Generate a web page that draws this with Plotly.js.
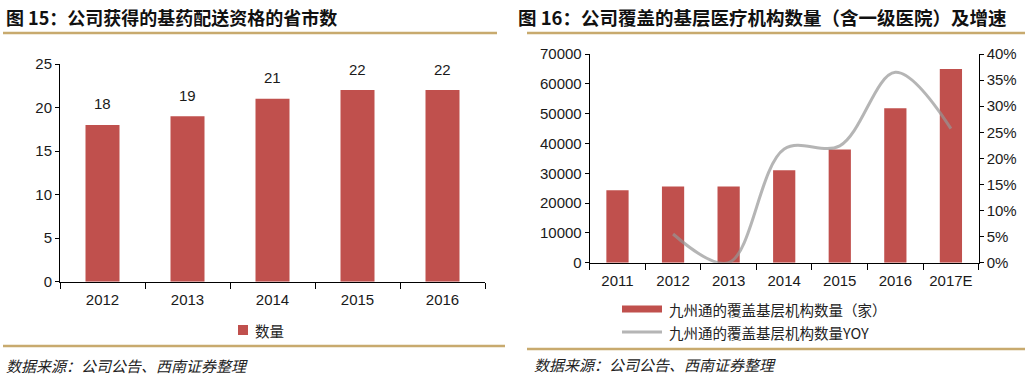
<!DOCTYPE html>
<html>
<head>
<meta charset="utf-8">
<script src="https://cdn.plot.ly/plotly-3.0.1.min.js"></script>
<style>
html,body{margin:0;padding:0;background:#fff;}
#chart{width:1025px;height:384px;}
</style>
</head>
<body>
<div id="chart"></div>
<script>
// ---- Data ----
const years1 = ['2012', '2013', '2014', '2015', '2016'];
const provinceCounts = [18, 19, 21, 22, 22];

const years2 = ['2011', '2012', '2013', '2014', '2015', '2016', '2017E'];
const institutionCounts = [24300, 25600, 25600, 31000, 38000, 51800, 65000];
const institutionYoY = [null, 5.5, 0.0, 21.8, 22.4, 36.5, 25.7];

const title1 = '图 15：公司获得的基药配送资格的省市数';
const title2 = '图 16：公司覆盖的基层医疗机构数量（含一级医院）及增速';
const legend1 = '数量';
const legend2a = '九州通的覆盖基层机构数量（家）';
const legend2b = '九州通的覆盖基层机构数量YOY';
const sourceText = '数据来源：公司公告、西南证券整理';

// ---- Styles ----
const W = 1025, H = 384;
const px = v => v / W;
const py = v => (H - v) / H;
const RED = '#c0504d';
const GRAY = 'rgba(150,150,150,0.7)';
const GOLD = '#c8aa6e';
const CJK = '"Noto Sans CJK SC", "Noto Sans", sans-serif';
const NUM = '"Liberation Sans", Arial, sans-serif';
const tickFont = {family: NUM, size: 15, color: '#1a1a1a'};

const traces = [
  {
    type: 'bar', x: years1, y: provinceCounts, xaxis: 'x', yaxis: 'y',
    marker: {color: RED}, width: 0.4, name: legend1, hoverinfo: 'x+y'
  },
  {
    type: 'bar', x: years2, y: institutionCounts, xaxis: 'x2', yaxis: 'y2',
    marker: {color: RED}, width: 0.4, name: legend2a, hoverinfo: 'x+y'
  },
  {
    type: 'scatter', mode: 'lines', x: years2, y: institutionYoY, xaxis: 'x2', yaxis: 'y3',
    line: {color: GRAY, width: 3, shape: 'spline', smoothing: 1},
    connectgaps: false, name: legend2b, hoverinfo: 'x+y'
  }
];

const axisCommon = {
  showline: true, linecolor: '#000', linewidth: 1,
  ticks: 'outside', tickcolor: '#000', tickwidth: 1,
  showgrid: false, zeroline: false, tickfont: tickFont, fixedrange: true
};

const annotations = [];
// data labels for left chart (category serial index on the x axis)
years1.forEach((yr, i) => {
  annotations.push({
    x: i, y: provinceCounts[i], xref: 'x', yref: 'y',
    text: String(provinceCounts[i]), showarrow: false, yshift: 21,
    font: {family: NUM, size: 15, color: '#1a1a1a'}
  });
});
// titles
annotations.push({
  x: px(4), y: py(17), xref: 'paper', yref: 'paper', xanchor: 'left', yanchor: 'middle',
  text: '<b>' + title1 + '</b>', showarrow: false,
  font: {family: CJK, size: 18, color: '#111'}
});
annotations.push({
  x: px(516), y: py(17), xref: 'paper', yref: 'paper', xanchor: 'left', yanchor: 'middle',
  text: '<b>' + title2 + '</b>', showarrow: false,
  font: {family: CJK, size: 18.5, color: '#111'}
});
// legends (custom)
const legFont = {family: CJK, size: 14.5, color: '#222'};
annotations.push({x: px(253), y: py(330), xref: 'paper', yref: 'paper', xanchor: 'left', yanchor: 'middle',
  text: legend1, showarrow: false, font: legFont});
annotations.push({x: px(667), y: py(309), xref: 'paper', yref: 'paper', xanchor: 'left', yanchor: 'middle',
  text: legend2a, showarrow: false, font: legFont});
annotations.push({x: px(667), y: py(332), xref: 'paper', yref: 'paper', xanchor: 'left', yanchor: 'middle',
  text: legend2b, showarrow: false, font: legFont});
// sources
const srcFont = {family: CJK, size: 15, color: '#222', style: 'italic'};
annotations.push({x: px(4), y: py(365), xref: 'paper', yref: 'paper', xanchor: 'left', yanchor: 'middle',
  text: sourceText, showarrow: false, font: srcFont});
annotations.push({x: px(532), y: py(364), xref: 'paper', yref: 'paper', xanchor: 'left', yanchor: 'middle',
  text: sourceText, showarrow: false, font: srcFont});

const shapes = [
  // gold rules
  {type: 'line', xref: 'paper', yref: 'paper', x0: px(3), x1: px(497), y0: py(33), y1: py(33), line: {color: GOLD, width: 2.5}},
  {type: 'line', xref: 'paper', yref: 'paper', x0: px(527), x1: px(1025), y0: py(33), y1: py(33), line: {color: GOLD, width: 2.5}},
  {type: 'line', xref: 'paper', yref: 'paper', x0: px(3), x1: px(505), y0: py(346), y1: py(346), line: {color: GOLD, width: 2.5}},
  {type: 'line', xref: 'paper', yref: 'paper', x0: px(527), x1: px(1025), y0: py(349), y1: py(349), line: {color: GOLD, width: 2.5}},
  // legend icons
  {type: 'rect', xref: 'paper', yref: 'paper', x0: px(238), x1: px(248), y0: py(335), y1: py(325), fillcolor: RED, line: {width: 0}},
  {type: 'rect', xref: 'paper', yref: 'paper', x0: px(622), x1: px(662), y0: py(312.5), y1: py(305.5), fillcolor: RED, line: {width: 0}},
  {type: 'line', xref: 'paper', yref: 'paper', x0: px(622), x1: px(662), y0: py(332), y1: py(332), line: {color: GRAY, width: 3}}
];

const layout = {
  width: W, height: H,
  margin: {l: 0, r: 0, t: 0, b: 0},
  paper_bgcolor: '#fff', plot_bgcolor: 'rgba(0,0,0,0)',
  showlegend: false,
  font: {family: NUM, color: '#1a1a1a'},
  xaxis: Object.assign({}, axisCommon, {
    domain: [px(60), px(485)], anchor: 'y', type: 'category',
    range: [-0.5, years1.length - 0.5], tickson: 'boundaries', ticklen: 6,
    ticklabelstandoff: 4
  }),
  yaxis: Object.assign({}, axisCommon, {
    domain: [py(281.7), py(64)], anchor: 'x', range: [0, 25], dtick: 5, ticklen: 4
  }),
  xaxis2: Object.assign({}, axisCommon, {
    domain: [px(589.7), px(978.7)], anchor: 'y2', type: 'category',
    range: [-0.5, years2.length - 0.5], tickson: 'boundaries', ticklen: 6,
    ticklabelstandoff: 4
  }),
  yaxis2: Object.assign({}, axisCommon, {
    domain: [py(262.7), py(54)], anchor: 'x2', range: [0, 70000], dtick: 10000, ticklen: 4,
    tickformat: 'd'
  }),
  yaxis3: Object.assign({}, axisCommon, {
    overlaying: 'y2', anchor: 'x2', side: 'right', range: [0, 40], dtick: 5, ticklen: 4,
    ticksuffix: '%'
  }),
  annotations: annotations,
  shapes: shapes
};

Plotly.newPlot('chart', traces, layout, {displayModeBar: false, staticPlot: true});
</script>
</body>
</html>
